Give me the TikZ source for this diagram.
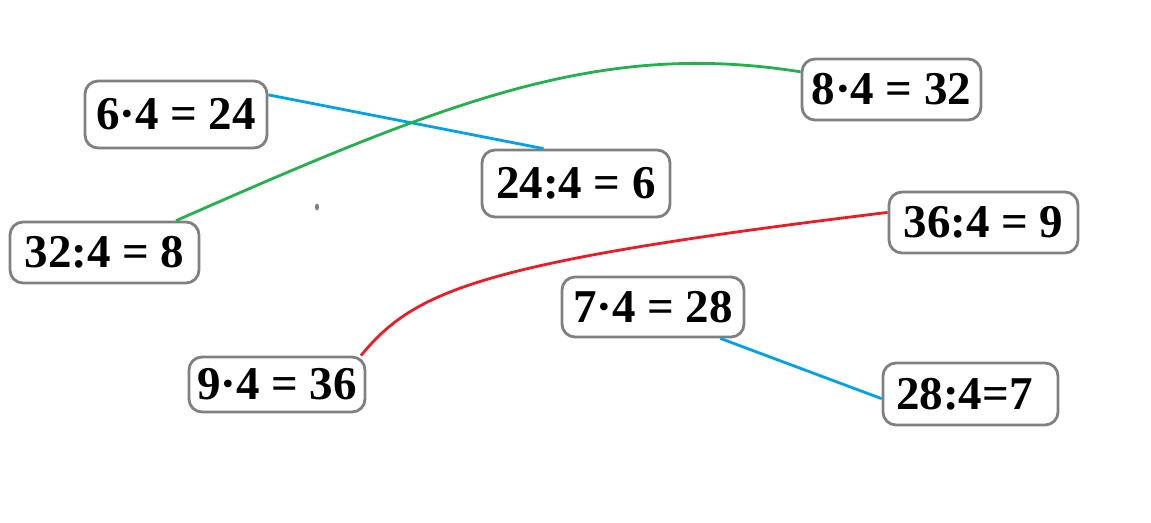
\documentclass[tikz,border=0pt]{standalone}
\usepackage{fontspec}
\setmainfont{Liberation Serif}
\definecolor{boxgray}{RGB}{128,128,128}
\definecolor{lnblue}{RGB}{0,162,232}
\definecolor{lngreen}{RGB}{34,177,76}
\definecolor{lnred}{RGB}{237,28,36}
\begin{document}
\begin{tikzpicture}[x=1pt,y=-1pt,
  eqbox/.style={draw=boxgray, line width=2.8pt, rounded corners=13pt, inner sep=0pt,
    font=\fontsize{47}{47}\selectfont\bfseries},
  link/.style={line width=2.8pt}]
\useasboundingbox (0,0) rectangle (1151,522);
\node[eqbox, minimum width=182, minimum height=67] (b1) at (176,114.5) {6·4 = 24};
\node[eqbox, minimum width=189, minimum height=61] (b2) at (104.5,252.5) {32:4 = 8};
\node[eqbox, minimum width=179, minimum height=61] (b3) at (891.5,89.5) {8·4 = 32};
\node[eqbox, minimum width=188, minimum height=67] (b4) at (576,183.5) {24:4 = 6};
\node[eqbox, minimum width=189, minimum height=61] (b5) at (983.5,222.5) {36:4 = 9};
\node[eqbox, minimum width=182, minimum height=60] (b6) at (653,307) {7·4 = 28};
\node[eqbox, minimum width=176, minimum height=55] (b7) at (277,384.5) {9·4 = 36};
\node[eqbox, minimum width=175, minimum height=62] (b8) at (970.5,394) {\hspace*{-12pt}28:4=7};
\fill[boxgray] (317,207) ellipse (2pt and 3.5pt);
\draw[link, lnblue] (b1.12) -- (b4.133);
\draw[link, lngreen] (b2.24) .. controls (450,100) and (600,40) .. (b3.169);
\draw[link, lnred] (b7.19) .. controls (415,290) and (480,262) .. (b5.174);
\draw[link, lnblue] (b6.-25) -- (b8.183);
\end{tikzpicture}
\end{document}
